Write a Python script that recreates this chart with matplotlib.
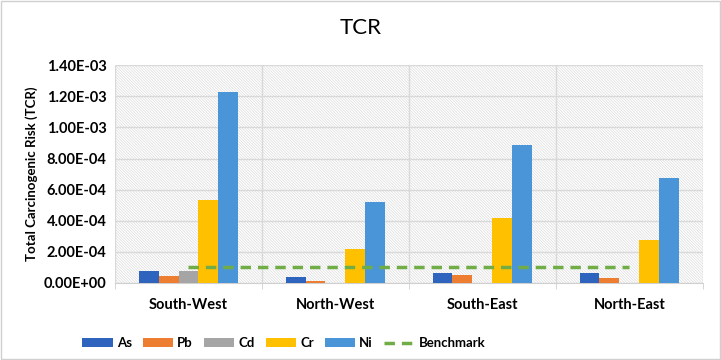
import numpy as np
import matplotlib.pyplot as plt
from matplotlib.patches import Rectangle
from matplotlib.ticker import FuncFormatter

plt.rcParams['font.family'] = ['Lato', 'DejaVu Sans']
plt.rcParams['hatch.linewidth'] = 0.5

regions = ['South-West', 'North-West', 'South-East', 'North-East']
metals = ['As', 'Pb', 'Cd', 'Cr', 'Ni']
colors = ['#2E64BE', '#ED7D31', '#A5A5A5', '#FFC000', '#4A95D8']

As = [0.77e-4, 0.39e-4, 0.66e-4, 0.62e-4]
Pb = [0.45e-4, 0.15e-4, 0.53e-4, 0.34e-4]
Cd = [0.75e-4, 0.004e-4, 0.004e-4, 0.004e-4]
Cr = [5.33e-4, 2.18e-4, 4.16e-4, 2.76e-4]
Ni = [12.3e-4, 5.18e-4, 8.86e-4, 6.72e-4]
benchmark = [1e-4, 1e-4, 1e-4, 1e-4]
series = [As, Pb, Cd, Cr, Ni]

fig = plt.figure(figsize=(7.21, 3.6), dpi=100)
fig.patches.append(Rectangle((0.001, 0.002), 0.997, 0.995, transform=fig.transFigure,
                             fill=False, edgecolor='#D0D0D0', linewidth=1))
ax = fig.add_axes([0.1595, 0.214, 0.8155, 0.605])

# hatched background
ax.add_patch(Rectangle((0, 0), 1, 1, transform=ax.transAxes, facecolor='white',
                       hatch='\\' * 12, edgecolor='#DCDCDC', linewidth=0, zorder=0))

x = np.arange(len(regions))
w = 0.136
for i, (name, vals) in enumerate(zip(metals, series)):
    ax.bar(x + (i - 2) * w, vals, width=w, color=colors[i], label=name, zorder=3)
ax.plot(x, benchmark, color='#70AD47', linestyle=(0, (3, 2)), linewidth=2.5,
        label='Benchmark', zorder=4)

ax.set_xlim(-0.5, 3.5)
ax.set_ylim(0, 1.4e-3)
ax.set_yticks(np.arange(0, 1.41e-3, 2e-4))
ax.yaxis.set_major_formatter(FuncFormatter(lambda v, p: f'{v:.2E}'))
ax.set_xticks(x)
ax.set_xticklabels(regions, fontweight='bold', fontsize=10.5)
ax.set_xticks(np.arange(-0.5, 3.6, 1), minor=True)
ax.tick_params(axis='x', which='major', length=0, pad=11)
ax.tick_params(axis='x', which='minor', length=4, color='#D0D0D0')
ax.tick_params(axis='y', length=0, labelsize=10.5, pad=6)
for t in ax.get_yticklabels():
    t.set_fontweight('bold')

ax.grid(axis='y', color='#D9D9D9', linewidth=1, zorder=1)
ax.grid(axis='x', which='minor', color='#D9D9D9', linewidth=1, zorder=1)
ax.set_axisbelow(True)
for s in ['top', 'right', 'left']:
    ax.spines[s].set_visible(False)
ax.spines['bottom'].set_color('#D0D0D0')

ax.set_ylabel('Total Carcinogenic Risk (TCR)', fontweight='bold', fontsize=9.5)
fig.suptitle('TCR', fontsize=16, y=0.95)

handles, labels = ax.get_legend_handles_labels()
order = [labels.index(n) for n in metals + ['Benchmark']]
fig.legend([handles[i] for i in order], [labels[i] for i in order],
           loc='center left', bbox_to_anchor=(0.105, 0.047), ncol=6, frameon=False,
           prop={'weight': 'bold', 'size': 9.5}, handlelength=2.3, handleheight=0.65,
           columnspacing=0.85, handletextpad=0.3, borderpad=0)

fig.savefig('out.png', dpi=100)
